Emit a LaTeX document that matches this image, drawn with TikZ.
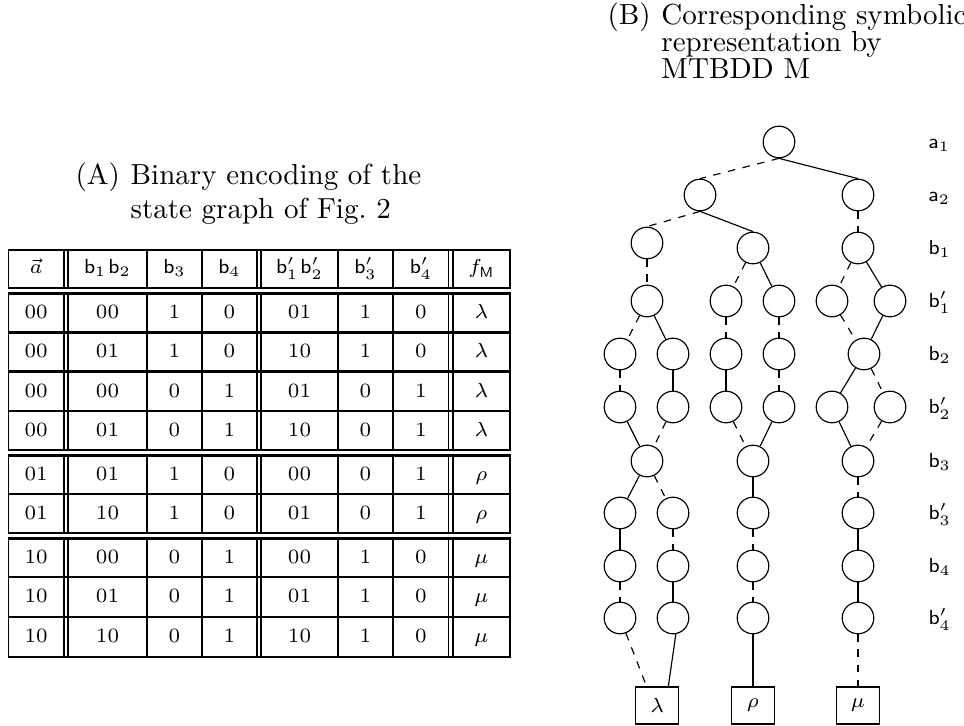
\documentclass[tikz,border=0pt]{standalone}
\usepackage{graphicx}
\usetikzlibrary{calc}
\begin{document}
\begin{tikzpicture}[x=0.3448pt,y=-0.3448pt,
  bdd/.style={circle,draw,line width=0.4pt,minimum size=10.9pt,inner sep=0pt},
  term/.style={rectangle,draw,line width=0.4pt,minimum width=14.8pt,minimum height=12.8pt,inner sep=0pt,font=\fontsize{7.5}{9}\selectfont},
  lo/.style={draw,line width=0.4pt,dash pattern=on 2.6pt off 2.6pt},
  hi/.style={draw,line width=0.4pt},
  lvl/.style={anchor=base west,inner sep=0pt,font=\fontsize{7.5}{9}\selectfont},
  ttl/.style={anchor=base west,inner sep=0pt,font=\fontsize{10}{12}\selectfont},
  cell/.style={anchor=base,inner sep=0pt,font=\fontsize{7}{8.5}\selectfont},
  hrule/.style={line width=0.85pt},
  vrule/.style={line width=0.6pt},
  dvrule/.style={line width=0.45pt}]
\useasboundingbox (0,0) rectangle (964,726);

% ---------- titles ----------
\coordinate (yA2) at (0,219);
\node[ttl] (tA) at (75,185) {(A)};
\node[ttl] (tA1) at ([xshift=3.33pt]tA.base east) {Binary encoding of the};
\node[ttl] (tA2) at (tA1.base west |- yA2) {state graph of Fig.~2};

\coordinate (yB2) at (0,52);
\coordinate (yB3) at (0,79);
\node[ttl] (tB) at (607,25) {(B)};
\node[ttl] (tB1) at ([xshift=3.33pt]tB.base east) {Corresponding symbolic};
\node[ttl] (tB2) at (tB1.base west |- yB2) {representation by};
\node[ttl] (tB3) at (tB1.base west |- yB3) {MTBDD M};

% ---------- table rules ----------
\foreach \yy in {250,288,293.5,332.5,371.5,411,450,455.5,494,533,538.5,577,617,657}
  \draw[hrule] (7.7,\yy) -- (510.9,\yy);
\foreach \ya/\yb in {250/288,293.5/450,455.5/533,538.5/657}{
  \foreach \xx in {8.5,147,202,338,393,510}
    \draw[vrule] (\xx,\ya) -- (\xx,\yb);
  \foreach \xx in {64,68,257,261,448.5,453}
    \draw[dvrule] (\xx,\ya) -- (\xx,\yb);
}

% ---------- table header ----------
\node[cell] (h1) at (36.2,274) {$\vec a$};
\node[cell] (h2) at (107.5,274) {$\mathsf{b}_1\mkern1.5mu\mathsf{b}_2$};
\node[cell] (h3) at (174.5,274) {$\mathsf{b}_3$};
\node[cell] (h4) at (229.5,274) {$\mathsf{b}_4$};
\node[cell] (h5) at (299.5,274) {$\mathsf{b}'_1\mkern1.5mu\mathsf{b}'_2$};
\node[cell] (h6) at (365.5,274) {$\mathsf{b}'_3$};
\node[cell] (h7) at (421,274) {$\mathsf{b}'_4$};
\node[cell] (h8) at (481.5,274) {$f_{\mathsf{M}}$};

% ---------- table body ----------
\foreach \r/\yy/\ca/\cb/\cc/\cd/\ce/\cf/\cg/\ch in {
  1/319/00/00/1/0/01/1/0/\lambda,
  2/358/00/01/1/0/10/1/0/\lambda,
  3/397.5/00/00/0/1/01/0/1/\lambda,
  4/436.5/00/01/0/1/10/0/1/\lambda,
  5/481/01/01/1/0/00/0/1/\rho,
  6/519.5/01/10/1/0/01/0/1/\rho,
  7/564/10/00/0/1/00/1/0/\mu,
  8/603/10/01/0/1/01/1/0/\mu,
  9/643/10/10/0/1/10/1/0/\mu}{
  \node[cell] (r\r c1) at (36.2,\yy) {\ca};
  \node[cell] (r\r c2) at (107.5,\yy) {\cb};
  \node[cell] (r\r c3) at (174.5,\yy) {\cc};
  \node[cell] (r\r c4) at (229.5,\yy) {\cd};
  \node[cell] (r\r c5) at (299.5,\yy) {\ce};
  \node[cell] (r\r c6) at (365.5,\yy) {\cf};
  \node[cell] (r\r c7) at (421,\yy) {\cg};
  \node[cell] (r\r c8) at (481.5,\yy) {$\ch$};
}

% ---------- MTBDD nodes ----------
\node[bdd] (A1) at (779,142) {};
\node[bdd] (A2l) at (700,195) {};
\node[bdd] (A2r) at (858,195) {};
\node[bdd] (B1l) at (647,243) {};
\node[bdd] (B1m) at (753,248) {};
\node[bdd] (B1r) at (858,248) {};
\node[bdd] (P1a) at (647,301) {};
\node[bdd] (P1b) at (726,301) {};
\node[bdd] (P1c) at (779,301) {};
\node[bdd] (P1d) at (832,301) {};
\node[bdd] (P1e) at (890,301) {};
\node[bdd] (B2a) at (620,354) {};
\node[bdd] (B2b) at (673,354) {};
\node[bdd] (B2c) at (726,354) {};
\node[bdd] (B2d) at (779,354) {};
\node[bdd] (B2e) at (864,354) {};
\node[bdd] (P2a) at (620,407) {};
\node[bdd] (P2b) at (673,407) {};
\node[bdd] (P2c) at (726,407) {};
\node[bdd] (P2d) at (779,407) {};
\node[bdd] (P2e) at (832,407) {};
\node[bdd] (P2f) at (890,407) {};
\node[bdd] (B3a) at (647,461) {};
\node[bdd] (B3b) at (753,461) {};
\node[bdd] (B3c) at (858,461) {};
\node[bdd] (P3a) at (620,513) {};
\node[bdd] (P3b) at (673,513) {};
\node[bdd] (P3c) at (753,513) {};
\node[bdd] (P3d) at (858,513) {};
\node[bdd] (B4a) at (620,566) {};
\node[bdd] (B4b) at (673,566) {};
\node[bdd] (B4c) at (753,566) {};
\node[bdd] (B4d) at (858,566) {};
\node[bdd] (P4a) at (620,618) {};
\node[bdd] (P4b) at (673,618) {};
\node[bdd] (P4c) at (753,618) {};
\node[bdd] (P4d) at (858,618) {};
\node[term] (Tl) at (657.3,705.5) {$\lambda$};
\node[term] (Tr) at (753,705.5) {$\rho$};
\node[term] (Tm) at (858,705.5) {$\mu$};

% ---------- level labels ----------
\node[lvl] (La1) at (928,149) {$\mathsf{a}_1$};
\node[lvl] (La2) at (928,202) {$\mathsf{a}_2$};
\node[lvl] (Lb1) at (928,255) {$\mathsf{b}_1$};
\node[lvl] (Lp1) at (928,308) {$\mathsf{b}'_1$};
\node[lvl] (Lb2) at (928,361) {$\mathsf{b}_2$};
\node[lvl] (Lp2) at (928,414) {$\mathsf{b}'_2$};
\node[lvl] (Lb3) at (928,468) {$\mathsf{b}_3$};
\node[lvl] (Lp3) at (928,520) {$\mathsf{b}'_3$};
\node[lvl] (Lb4) at (928,573) {$\mathsf{b}_4$};
\node[lvl] (Lp4) at (928,625) {$\mathsf{b}'_4$};

% ---------- MTBDD edges ----------
\draw[lo] (A1.south) -- (A2l.north);
\draw[hi] (A1.south) -- (A2r.north);
\draw[lo] (A2l.south) -- (B1l.north);
\draw[hi] (A2l.south) -- (B1m.north);
\draw[lo] (A2r) -- (B1r);
\draw[lo] (B1l) -- (P1a);
\draw[lo] (B1m) -- (P1b);
\draw[hi] (B1m) -- (P1c);
\draw[lo] (B1r) -- (P1d);
\draw[hi] (B1r) -- (P1e);
\draw[lo] (P1a) -- (B2a);
\draw[hi] (P1a) -- (B2b);
\draw[lo] (P1b) -- (B2c);
\draw[lo] (P1c) -- (B2d);
\draw[lo] (P1d) -- (B2e);
\draw[hi] (P1e) -- (B2e);
\draw[lo] (B2a) -- (P2a);
\draw[hi] (B2b) -- (P2b);
\draw[hi] (B2c) -- (P2c);
\draw[lo] (B2d) -- (P2d);
\draw[hi] (B2e) -- (P2e);
\draw[lo] (B2e) -- (P2f);
\draw[hi] (P2a) -- (B3a);
\draw[lo] (P2b) -- (B3a);
\draw[lo] (P2c) -- (B3b);
\draw[hi] (P2d) -- (B3b);
\draw[hi] (P2e) -- (B3c);
\draw[lo] (P2f) -- (B3c);
\draw[hi] (B3a) -- (P3a);
\draw[lo] (B3a) -- (P3b);
\draw[hi] (B3b) -- (P3c);
\draw[lo] (B3c) -- (P3d);
\draw[hi] (P3a) -- (B4a);
\draw[lo] (P3b) -- (B4b);
\draw[lo] (P3c) -- (B4c);
\draw[hi] (P3d) -- (B4d);
\draw[lo] (B4a) -- (P4a);
\draw[hi] (B4b) -- (P4b);
\draw[lo] (B4c) -- (P4c);
\draw[hi] (B4d) -- (P4d);
\draw[lo] (P4a) -- ([xshift=-3.7pt]Tl.north);
\draw[hi] (P4b.-80) -- ([xshift=3.8pt]Tl.north);
\draw[hi] (P4c) -- (Tr);
\draw[lo] (P4d) -- (Tm);
\end{tikzpicture}
\end{document}
